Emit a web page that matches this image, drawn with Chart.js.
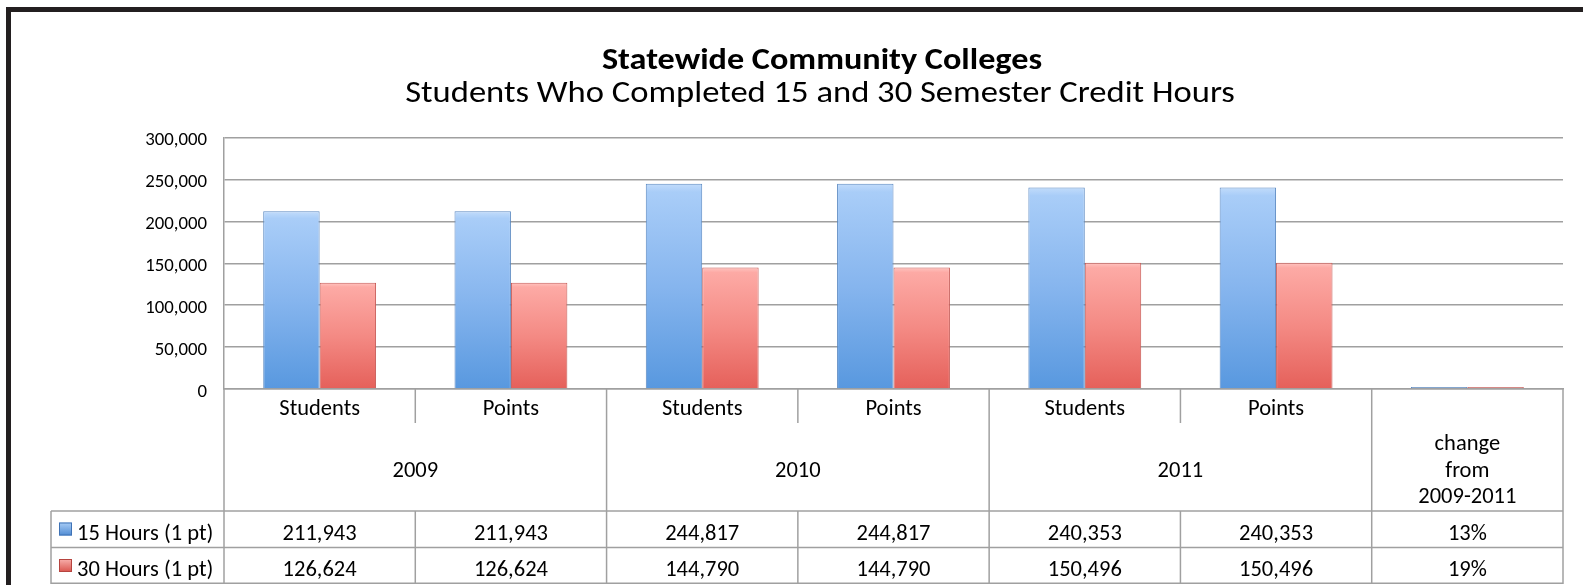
<!DOCTYPE html>
<html>
<head>
<meta charset="utf-8">
<script src="https://cdn.jsdelivr.net/npm/chart.js@4"></script>
<style>
  html, body { margin: 0; padding: 0; background: #fff; overflow: hidden; width: 1583px; height: 585px; }
  #frame { position: absolute; left: 6px; top: 7px; width: 1700px; height: 700px; border: 5px solid #231f20; box-sizing: border-box; }
  #wrap { position: absolute; left: 0; top: 0; width: 1632px; height: 585px; }
</style>
</head>
<body>
<div id="frame"></div>
<div id="wrap"><canvas id="c"></canvas></div>
<script>
const titleText = 'Statewide Community Colleges';
const subtitleText = 'Students Who Completed 15 and 30 Semester Credit Hours';
const categories = ['Students', 'Points', 'Students', 'Points', 'Students', 'Points', ''];
const groupLabels = ['2009', '2010', '2011'];
const changeLabel = ['change', 'from', '2009-2011'];
const seriesNames = ['15 Hours (1 pt)', '30 Hours (1 pt)'];
const hours15 = [211943, 211943, 244817, 244817, 240353, 240353, 0.13];
const hours30 = [126624, 126624, 144790, 144790, 150496, 150496, 0.19];
const yTicks = [0, 50000, 100000, 150000, 200000, 250000, 300000];

const FONT = 'Carlito, Lato, "Open Sans", sans-serif';
const gridCol = '#a0a0a0';

function fmtVal(v) {
  if (v < 1) return Math.round(v * 100) + '%';
  return v.toLocaleString('en-US');
}

function makeGrad(stops, solid) {
  return function (c) {
    const ch = c.chart;
    if (!ch.chartArea || c.type !== 'data') return solid;
    const ys = ch.scales.y;
    const top = ys.getPixelForValue(c.raw);
    const base = ys.getPixelForValue(0);
    if (base - top < 3) return solid;
    const g = ch.ctx.createLinearGradient(0, top, 0, base);
    stops.forEach(s => g.addColorStop(s[0], s[1]));
    return g;
  };
}

const titlePlugin = {
  id: 'stretchedTitle',
  afterDraw(chart) {
    const ctx = chart.ctx;
    ctx.save();
    ctx.fillStyle = '#000';
    ctx.textAlign = 'center';
    ctx.textBaseline = 'alphabetic';
    ctx.save();
    ctx.translate(822, 68.5);
    ctx.scale(1.14, 1);
    ctx.font = 'bold 30px ' + FONT;
    ctx.fillText(titleText, 0, 0);
    ctx.restore();
    ctx.save();
    ctx.translate(820, 101.5);
    ctx.scale(1.16, 1);
    ctx.font = '29.8px ' + FONT;
    ctx.fillText(subtitleText, 0, 0);
    ctx.restore();
    ctx.restore();
  }
};

const tablePlugin = {
  id: 'dataTable',
  afterDraw(chart) {
    const ctx = chart.ctx;
    const xs = chart.scales.x;
    const n = categories.length;
    const w = xs.width / n;
    const edge = i => xs.left + i * w;
    const top = xs.top;
    const catBottom = top + 34;
    const dataTop = top + 122;
    const rowH = 36.5;
    const bottom = dataTop + 2 * rowH;
    const legLeft = 51;

    ctx.save();
    ctx.strokeStyle = gridCol;
    ctx.lineWidth = 1.5;
    const line = (x1, y1, x2, y2) => { ctx.beginPath(); ctx.moveTo(x1, y1); ctx.lineTo(x2, y2); ctx.stroke(); };

    for (let i = 1; i < n - 1; i += 2) line(edge(i), top, edge(i), catBottom);
    for (let i = 0; i < n; i += 2) line(edge(i), top, edge(i), bottom);
    line(edge(n), top, edge(n), bottom);
    for (let i = 1; i < n; i += 2) line(edge(i), dataTop, edge(i), bottom);
    line(legLeft, dataTop, legLeft, bottom);
    line(legLeft, dataTop, edge(n), dataTop);
    line(legLeft, dataTop + rowH, edge(n), dataTop + rowH);
    line(legLeft, bottom - 0.75, edge(n), bottom - 0.75);

    ctx.fillStyle = '#000';
    ctx.textAlign = 'center';
    ctx.textBaseline = 'alphabetic';
    ctx.font = '22.5px ' + FONT;
    groupLabels.forEach((g, k) => {
      ctx.fillText(g, (edge(2 * k) + edge(2 * k + 2)) / 2, top + 88);
    });
    const cx = (edge(n - 1) + edge(n)) / 2;
    changeLabel.forEach((t, k) => ctx.fillText(t, cx, top + 61 + k * 26.5));

    const series = [hours15, hours30];
    const baselines = [dataTop + 28.5, dataTop + 65];
    series.forEach((arr, r) => {
      arr.forEach((v, i) => {
        ctx.fillText(fmtVal(v), (edge(i) + edge(i + 1)) / 2, baselines[r]);
      });
    });

    const keyCols = [['#a9cdf6', '#4f8bd3', '#3f72b5'], ['#f8b0ac', '#d9544d', '#b6443f']];
    ctx.textAlign = 'left';
    seriesNames.forEach((s, r) => {
      const ky = baselines[r] - 17;
      const g = ctx.createLinearGradient(0, ky, 0, ky + 13);
      g.addColorStop(0, keyCols[r][0]);
      g.addColorStop(1, keyCols[r][1]);
      ctx.fillStyle = g;
      ctx.fillRect(59, ky, 13, 13);
      ctx.strokeStyle = keyCols[r][2];
      ctx.lineWidth = 1;
      ctx.strokeRect(59.5, ky + 0.5, 12, 12);
      ctx.fillStyle = '#000';
      ctx.fillText(s, 77, baselines[r]);
    });
    ctx.restore();
  }
};

new Chart(document.getElementById('c'), {
  type: 'bar',
  data: {
    labels: categories,
    datasets: [
      {
        label: seriesNames[0],
        data: hours15,
        backgroundColor: makeGrad([[0, '#c2dcfb'], [0.04, '#a9cdf8'], [0.5, '#86b5ee'], [1, '#5898df']], '#8aa6c8'),
        borderColor: '#5b89c2',
        borderWidth: 1,
        minBarLength: 2
      },
      {
        label: seriesNames[1],
        data: hours30,
        backgroundColor: makeGrad([[0, '#ffc4c0'], [0.04, '#fdaaa5'], [0.5, '#f48a84'], [1, '#e5605a']], '#d9a3a1'),
        borderColor: '#c65a55',
        borderWidth: 1,
        minBarLength: 2
      }
    ]
  },
  options: {
    responsive: true,
    maintainAspectRatio: false,
    animation: false,
    layout: { padding: { left: 0, right: 69, top: 137.5, bottom: 0 } },
    plugins: {
      legend: { display: false },
      tooltip: { enabled: false },
      title: { display: false },
      subtitle: { display: false }
    },
    datasets: { bar: { categoryPercentage: 0.59, barPercentage: 1.0 } },
    scales: {
      x: {
        grid: { display: false, drawTicks: false },
        border: { display: true, color: gridCol, width: 1.5 },
        ticks: { color: '#000', font: { family: FONT, size: 22.5 }, padding: 7, maxRotation: 0, autoSkip: false },
        afterFit(s) { s.height = 196; }
      },
      y: {
        min: 0, max: 300000,
        afterBuildTicks(s) { s.ticks = yTicks.map(v => ({ value: v })); },
        grid: { color: gridCol, lineWidth: 1.5, drawTicks: false },
        border: { display: true, color: gridCol, width: 1.5 },
        ticks: {
          color: '#000', padding: 17, labelOffset: 3,
          font: { family: FONT, size: 18.8 },
          callback: v => v.toLocaleString('en-US')
        },
        afterFit(s) { s.width = 224; }
      }
    }
  },
  plugins: [tablePlugin, titlePlugin]
});
</script>
</body>
</html>
